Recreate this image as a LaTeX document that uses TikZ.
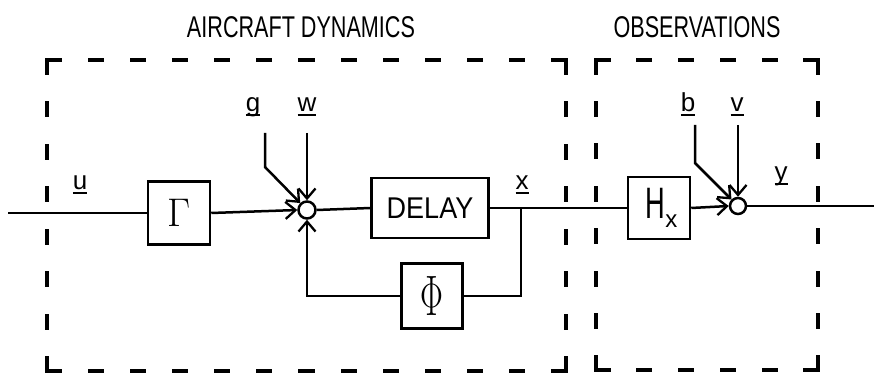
\documentclass[tikz,border=0pt]{standalone}
\usepackage{fontspec}
\usepackage{graphicx}
\usetikzlibrary{arrows.meta}
\newfontfamily\letfont[FakeStretch=0.72]{Liberation Sans}
\newfontfamily\delfont[FakeStretch=0.9]{Liberation Sans}
\newfontfamily\hfont[FakeStretch=0.62]{Liberation Sans}
\newfontfamily\labfont{Liberation Sans}
\newcommand\ulbar[1]{\setbox0\hbox{#1}\rlap{\rule[-4pt]{\wd0}{2pt}}\box0}
\begin{document}
\begin{tikzpicture}[x=1pt,y=-1pt,line width=2.5pt,
  blk/.style={draw,rectangle,inner sep=0pt,line width=2.5pt},
  sumc/.style={draw,circle,minimum size=17pt,inner sep=0pt,line width=2.5pt},
  arr/.style={-{Straight Barb[length=10pt,width=17pt,line width=2.3pt]}},
  dsh/.style={line width=3.2pt,line cap=rect},
  lbl/.style={font=\labfont\fontsize{26}{26}\selectfont,inner sep=0pt,anchor=base},
  ttl/.style={font=\letfont\fontsize{30}{30}\selectfont,inner sep=0pt}]
\useasboundingbox (0,0) rectangle (874,379);

% titles
\node[ttl] (t1) at (301,27) {AIRCRAFT DYNAMICS};
\node[ttl] (t2) at (697,27) {OBSERVATIONS};

% dashed boxes
\coordinate (A) at (47,60);
\coordinate (B) at (566,60);
\coordinate (C) at (566,371);
\coordinate (D) at (47,371);
\draw[dsh,dash pattern=on 13pt off 29.17pt] (A) -- (B);
\draw[dsh,dash pattern=on 13pt off 29.57pt] (A) -- (D);
\draw[dsh,dash pattern=on 13pt off 29.57pt] (B) -- (C);
\draw[dsh,dash pattern=on 13pt off 29.17pt] (D) -- (C);
\coordinate (E) at (596,60);
\coordinate (F) at (818,60);
\coordinate (G) at (818,370);
\coordinate (H) at (596,370);
\draw[dsh,dash pattern=on 13pt off 28.8pt] (E) -- (F);
\draw[dsh,dash pattern=on 13pt off 29.43pt] (E) -- (H);
\draw[dsh,dash pattern=on 13pt off 29.43pt] (F) -- (G);
\draw[dsh,dash pattern=on 13pt off 28.8pt] (H) -- (G);

% blocks
\node[blk,minimum width=62pt,minimum height=63pt] (gam) at (179,213) {\fontsize{40}{40}\selectfont Γ};
\node[sumc] (s1) at (307,210) {};
\node[blk,minimum width=117pt,minimum height=60pt] (del) at (430,208) {\delfont\fontsize{30}{30}\selectfont DELAY};
\node[blk,minimum width=61pt,minimum height=65pt] (phi) at (432,296) {\scalebox{0.6}[1]{\fontsize{57}{57}\selectfont Φ}};
\node[blk,minimum width=62pt,minimum height=62pt] (hx) at (659,208) {\hspace{5pt}{\hfont\fontsize{44}{44}\selectfont H}\raisebox{-9pt}{\labfont\fontsize{24}{24}\selectfont x}};
\node[sumc,minimum size=16pt] (s2) at (738,206) {};

% coordinates
\coordinate (uin) at (8,213);
\coordinate (out) at (874,206);
\coordinate (br) at (521,208);
\coordinate (gtop) at (265,133);
\coordinate (gbend) at (265,167);
\coordinate (wtop) at (307,133);
\coordinate (btop) at (695,125);
\coordinate (bbend) at (695,163);
\coordinate (vtop) at (738,125);

% connectors
\draw (uin) -- (gam.west);
\draw[arr] (gam.east) -- (s1.west);
\draw (s1.east) -- (del.west);
\draw (del.east) -- (hx.west);
\draw[arr] (hx.east) -- (s2.west);
\draw (s2.east) -- (out);
\draw (br) |- (phi.east);
\draw[arr] (phi.west) -| (s1.south);
\draw[arr] (gtop) -- (gbend) -- (s1);
\draw[arr] (wtop) -- (s1.north);
\draw[arr] (btop) -- (bbend) -- (s2);
\draw[arr] (vtop) -- (s2.north);

% labels
\node[lbl] (ul) at (80,190) {\ulbar{u}};
\node[lbl] (gl) at (253,112) {\ulbar{g}};
\node[lbl] (wl) at (307,112) {\ulbar{w}};
\node[lbl] (xl) at (522,190) {\ulbar{x}};
\node[lbl] (bl) at (688,112) {\ulbar{b}};
\node[lbl] (vl) at (737,112) {\ulbar{v}};
\node[lbl] (yl) at (781,181) {\ulbar{y}};
\end{tikzpicture}
\end{document}
